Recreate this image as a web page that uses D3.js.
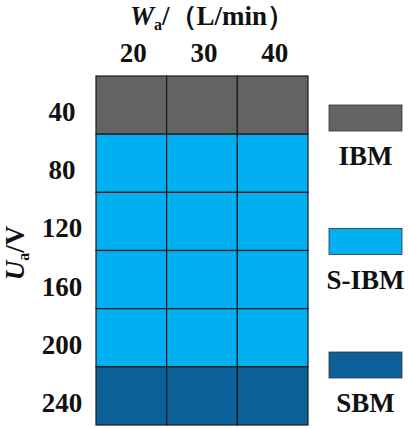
<!DOCTYPE html>
<html>
<head>
<meta charset="utf-8">
<script src="https://cdn.jsdelivr.net/npm/d3@7"></script>
<style>
  body { margin: 0; background: #fff; }
  svg text { font-family: "Liberation Serif", "Times New Roman", serif; font-weight: bold; fill: #111; }
</style>
</head>
<body>
<div id="chart"></div>
<script>
    // data
    const flowRates = [20, 30, 40];                // Wa, L/min
    const voltages = [40, 80, 120, 160, 200, 240]; // Ua, V
    const modes = ["IBM", "S-IBM", "SBM"];
    // mode for each voltage row, same for every flow rate
    const modeGrid = [
        ["IBM", "IBM", "IBM"],
        ["S-IBM", "S-IBM", "S-IBM"],
        ["S-IBM", "S-IBM", "S-IBM"],
        ["S-IBM", "S-IBM", "S-IBM"],
        ["S-IBM", "S-IBM", "S-IBM"],
        ["SBM", "SBM", "SBM"]
    ];
    const modeColors = ["#636363", "#00b0f0", "#0c6198"];

    const width = 408, height = 429;
    const fs = "27px";
    const svg = d3.select("#chart").append("svg")
        .attr("width", width)
        .attr("height", height);

    const x = d3.scaleBand().domain(flowRates).range([96, 308]);
    const y = d3.scaleBand().domain(voltages).range([76, 425]);
    const color = d3.scaleOrdinal().domain(modes).range(modeColors);

    // cells
    const cells = [];
    voltages.forEach((v, i) => flowRates.forEach((w, j) => cells.push({ v, w, mode: modeGrid[i][j] })));
    svg.selectAll("rect.cell")
        .data(cells)
        .enter()
        .append("rect")
        .attr("class", "cell")
        .attr("x", d => x(d.w))
        .attr("y", d => y(d.v))
        .attr("width", x.bandwidth())
        .attr("height", y.bandwidth())
        .attr("fill", d => color(d.mode))
        .attr("stroke", "#1a1a1a")
        .attr("stroke-width", 1.2);

    // column labels on top
    svg.selectAll("text.col")
        .data(flowRates)
        .enter()
        .append("text")
        .attr("class", "col")
        .attr("x", d => x(d) + x.bandwidth() / 2 + 2)
        .attr("y", 62)
        .attr("text-anchor", "middle")
        .style("font-size", fs)
        .text(d => d);

    // row labels
    svg.selectAll("text.row")
        .data(voltages)
        .enter()
        .append("text")
        .attr("class", "row")
        .attr("x", 62)
        .attr("y", d => y(d) + y.bandwidth() / 2 + 16)
        .attr("text-anchor", "middle")
        .style("font-size", fs)
        .text(d => d);

    // top title
    const title = svg.append("text")
        .attr("x", 130)
        .attr("y", 25)
        .style("font-size", fs);
    title.append("tspan").style("font-style", "italic").text("W");
    title.append("tspan").attr("dy", 5).style("font-size", "16px").text("a");
    title.append("tspan").attr("dy", -5).text("/（L/min）");

    // y title
    const yTitle = svg.append("text")
        .attr("transform", "translate(24,253) rotate(-90)")
        .attr("text-anchor", "middle")
        .style("font-size", fs);
    yTitle.append("tspan").style("font-style", "italic").text("U");
    yTitle.append("tspan").attr("dy", 5).style("font-size", "16px").text("a");
    yTitle.append("tspan").attr("dy", -5).text("/V");

    // legend
    const legendY = d3.scalePoint().domain(modes).range([105, 352]);
    const legend = svg.selectAll("g.legend")
        .data(modes)
        .enter()
        .append("g")
        .attr("class", "legend")
        .attr("transform", d => `translate(329,${legendY(d)})`);
    legend.append("rect")
        .attr("width", 73)
        .attr("height", 26)
        .attr("fill", d => color(d))
        .attr("stroke", "#333")
        .attr("stroke-width", 0.8);
    legend.append("text")
        .attr("x", 36.5)
        .attr("y", 60)
        .attr("text-anchor", "middle")
        .style("font-size", fs)
        .text(d => d);
</script>
</body>
</html>
